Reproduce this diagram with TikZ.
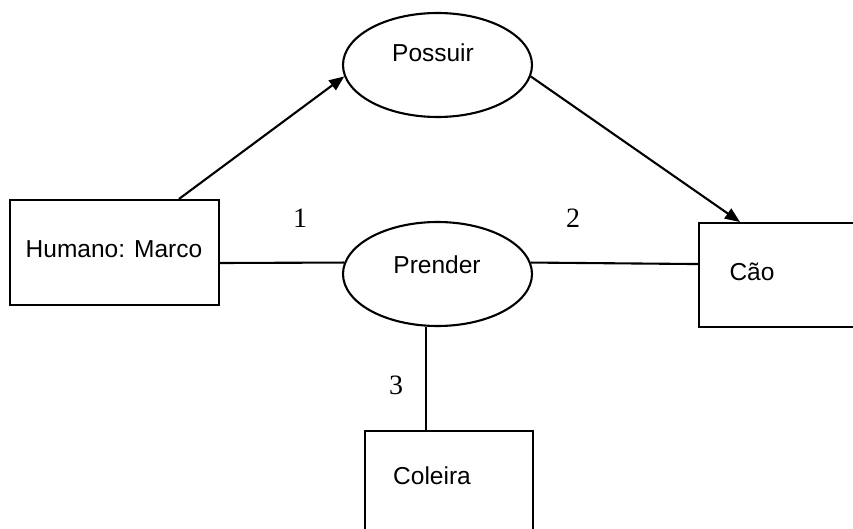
\documentclass[tikz,border=0pt]{standalone}
\usepackage{fontspec}
\setmainfont{Liberation Sans}
\newfontfamily\numfont{Liberation Serif}
\usetikzlibrary{shapes.geometric,arrows.meta}

\begin{document}
\begin{tikzpicture}[
  x=1pt, y=-1pt,
  line width=2.1pt,
  entity/.style={draw, rectangle, inner sep=0pt},
  relation/.style={draw, ellipse, inner sep=0pt,
                   minimum width=189pt, minimum height=104pt},
  label text/.style={font=\fontsize{24.5}{27}\selectfont, inner sep=0pt},
  role/.style={font=\numfont\fontsize{28}{31}\selectfont, inner sep=0pt},
  arrow/.style={-{Triangle[length=15pt,width=12pt]}}
]
\useasboundingbox (0,0) rectangle (853,529);
\clip (0,0) rectangle (853,529);

% concept boxes
\node[entity, minimum width=209pt, minimum height=105pt] (hum) at (114.5,252.5) {};
\node[label text] (humtext) at (114,249) {Humano: Marco};

\node[entity, minimum width=190pt, minimum height=104pt, anchor=north west] (cao) at (698,222) {};
\node[label text] (caotext) at (752,272) {Cão};

\node[entity, minimum width=168pt, minimum height=140pt, anchor=north west] (col) at (364,430) {};
\node[label text] (coltext) at (432,476) {Coleira};

% relations
\node[relation] (possuir) at (437.5,65) {};
\node[label text] (possuirtext) at (433,53) {Possuir};

\node[relation] (prender) at (437.5,274) {};
\node[label text] (prendertext) at (437,265) {Prender};

% arcs
\draw[arrow] ([xshift=64.5pt]hum.north) -- (possuir.187);
\draw[arrow] (possuir.-7) -- ([xshift=42pt]cao.north west);
\draw ([yshift=-10.5pt]hum.east) -- (prender.173);
\draw (prender.7) -- ([yshift=11pt]cao.west);
\draw (prender.258.5) -- (prender.258.5 |- col.north);

% role numbers
\node[role] (r1) at (300,218) {1};
\node[role] (r2) at (573,218) {2};
\node[role] (r3) at (396,385) {3};
\end{tikzpicture}
\end{document}
